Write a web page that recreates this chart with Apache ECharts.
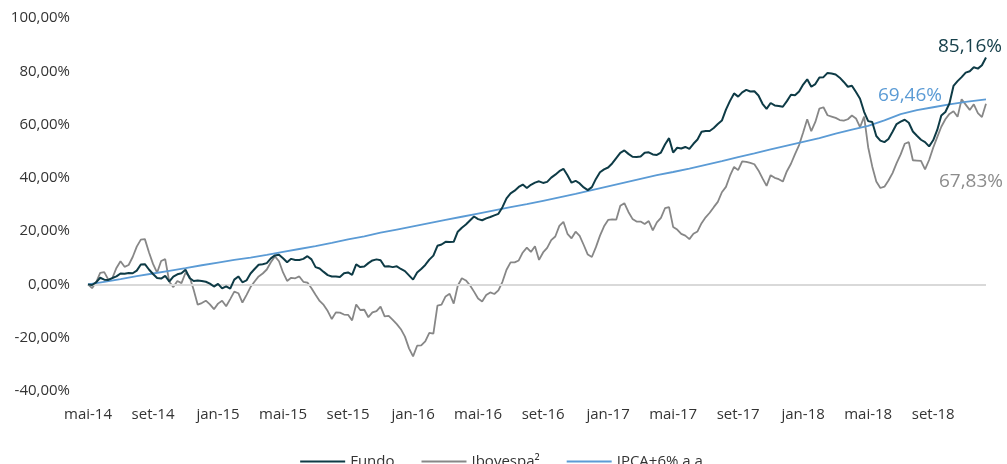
<!DOCTYPE html>
<html>
<head>
<meta charset="utf-8">
<script src="https://cdn.jsdelivr.net/npm/echarts@6/dist/echarts.min.js"></script>
<style>
  html, body { margin: 0; padding: 0; background: #fff; }
  #chart { width: 1007px; height: 464px; }
</style>
</head>
<body>
<div id="chart"></div>
<script>
// meses a partir de mai-14, pontos a cada 1/4 de mês
const STEP = 0.25
const END = 55.25
const monthNames = ['jan', 'fev', 'mar', 'abr', 'mai', 'jun', 'jul', 'ago', 'set', 'out', 'nov', 'dez']
const yTicks = [-40, -20, 0, 20, 40, 60, 80, 100]

// rentabilidade acumulada (%)
const fundo = [
  0.0, -0.2, 0.8, 2.5, 1.8, 1.7, 2.4, 3.0, 4.1, 4.0, 4.3, 4.2, 5.2, 7.5, 7.6, 5.6,
  3.9, 2.4, 2.2, 3.2, 1.1, 2.9, 3.8, 4.2, 5.5, 2.4, 1.3, 1.5, 1.3, 1.0, 0.3, -0.8,
  0.2, -1.5, -0.7, -1.6, 1.8, 3.0, 0.8, 1.5, 4.1, 5.8, 7.4, 7.6, 8.0, 9.8, 10.9, 11.1,
  9.8, 8.3, 9.6, 9.2, 9.2, 9.6, 10.6, 9.4, 6.5, 6.0, 4.7, 3.5, 3.0, 3.0, 2.8, 4.2,
  4.5, 3.6, 7.5, 6.5, 6.7, 8.0, 9.0, 9.4, 9.1, 6.7, 6.8, 6.5, 6.8, 5.8, 5.0, 3.4,
  1.8, 4.5, 5.8, 7.3, 9.3, 10.8, 14.5, 15.0, 16.0, 15.9, 16.0, 19.8, 21.3, 22.5, 24.0, 25.5,
  24.5, 24.1, 24.8, 25.3, 25.9, 26.5, 29.0, 32.3, 34.2, 35.2, 36.6, 37.5, 36.2, 37.4, 38.2, 38.7,
  38.1, 38.5, 40.1, 41.2, 42.5, 43.4, 41.0, 38.2, 38.9, 37.9, 36.4, 35.4, 36.5, 39.6, 42.1, 43.2,
  43.9, 45.4, 47.4, 49.4, 50.3, 49.0, 47.9, 47.8, 48.0, 49.4, 49.6, 48.8, 48.6, 49.5, 52.5, 54.9,
  49.5, 51.3, 51.0, 51.6, 50.9, 52.8, 54.4, 57.3, 57.6, 57.6, 58.7, 60.2, 61.5, 65.6, 68.9, 71.7,
  70.5, 72.1, 73.0, 72.4, 72.5, 70.9, 67.8, 65.9, 68.1, 67.2, 67.0, 66.7, 68.8, 71.2, 71.0, 72.4,
  75.0, 77.0, 74.2, 75.2, 77.7, 77.8, 79.4, 79.2, 78.8, 77.6, 76.0, 74.2, 74.6, 72.2, 69.7, 64.8,
  61.3, 61.0, 55.7, 54.0, 53.4, 54.6, 57.3, 60.2, 61.1, 61.8, 60.7, 57.4, 55.8, 54.3, 53.4, 51.8,
  54.1, 58.0, 63.4, 64.7, 67.9, 74.5, 76.3, 77.8, 79.5, 80.0, 81.5, 81.0, 82.3, 85.16
]

const ibovespa = [
  0.0, -1.4, 0.8, 4.3, 4.6, 1.8, 2.4, 6.2, 8.7, 6.6, 7.3, 10.3, 14.2, 16.8, 17.0, 12.1,
  7.7, 4.4, 8.8, 9.5, 1.0, -1.0, 1.3, 0.5, 4.4, 2.9, -2.0, -7.6, -7.0, -6.1, -7.5, -9.3,
  -7.2, -6.1, -8.2, -5.5, -2.7, -3.3, -6.8, -4.0, -1.0, 1.1, 3.0, 4.1, 5.6, 8.3, 10.5, 8.7,
  4.5, 1.3, 2.5, 2.3, 3.0, 1.0, 0.7, -1.4, -3.9, -6.2, -7.7, -10.0, -13.0, -10.5, -10.6, -11.3,
  -11.4, -13.5, -7.5, -9.6, -9.5, -12.3, -10.5, -10.0, -8.3, -12.0, -11.8, -13.3, -14.9, -16.8, -19.6, -24.0,
  -27.0, -23.0, -22.9, -21.4, -18.2, -18.5, -8.0, -7.6, -4.5, -3.5, -7.2, -0.5, 2.3, 1.5, -0.3, -2.7,
  -5.3, -6.4, -4.0, -3.0, -3.6, -2.2, 1.0, 5.5, 8.3, 8.3, 9.0, 12.0, 13.8, 12.2, 14.3, 9.2,
  12.0, 13.7, 16.6, 18.0, 22.0, 23.5, 19.0, 17.3, 19.8, 18.2, 14.8, 11.2, 10.3, 14.0, 18.3, 21.8,
  24.2, 24.4, 24.3, 29.5, 30.5, 27.2, 24.6, 23.6, 23.6, 22.7, 23.8, 20.3, 23.3, 25.0, 28.6, 29.0,
  21.6, 20.6, 19.0, 18.3, 17.0, 19.0, 19.9, 23.0, 25.2, 26.9, 29.0, 31.0, 34.6, 36.6, 40.8, 44.1,
  42.9, 46.2, 46.0, 45.6, 45.1, 42.8, 39.8, 37.0, 41.0, 40.0, 39.5, 38.6, 42.5, 45.3, 48.9, 52.3,
  57.0, 62.0, 57.5, 61.0, 66.0, 66.5, 63.5, 63.0, 62.5, 61.7, 61.5, 62.0, 63.4, 62.3, 59.0, 63.0,
  51.5, 44.3, 38.6, 36.2, 36.7, 39.0, 41.8, 45.5, 48.8, 52.8, 53.4, 46.6, 46.5, 46.4, 43.2, 46.7,
  51.3, 55.3, 59.2, 62.0, 64.0, 65.0, 62.9, 69.5, 67.5, 65.5, 67.6, 64.3, 62.8, 67.83
]

// IPCA+6% a.a., um ponto por mês (o último no fim da série)
const ipca = [
  0.0, 1.0, 2.0, 3.1, 4.1, 5.1, 6.1, 7.2, 8.2, 9.2, 10.1, 11.1, 12.2, 13.3, 14.4, 15.6,
  16.9, 18.0, 19.4, 20.6, 21.8, 23.0, 24.2, 25.4, 26.6, 27.8, 29.0, 30.1, 31.4, 32.7, 34.0, 35.4,
  36.8, 38.2, 39.6, 41.0, 42.2, 43.5, 44.9, 46.3, 47.8, 49.2, 50.7, 52.1, 53.5, 54.9, 56.6, 58.1,
  59.5, 61.6, 63.9, 65.4, 66.5, 67.6, 68.5, 69.3, 69.46
]

const FONT = 'Open Sans'

function pct (v) {
  return v.toFixed(2).replace('.', ',') + '%'
}

function monthLabel (m) {
  let k = 4 + Math.round(m)
  return monthNames[k % 12] + '-' + (14 + Math.floor(k / 12))
}

// rótulo com o valor final, preso ao último ponto
function endMark (arr, color, offset) {
  let last = arr[arr.length - 1]
  return {
    silent: true,
    symbol: 'circle',
    symbolSize: 1,
    itemStyle: { color: 'rgba(0,0,0,0)' },
    label: {
      show: true,
      position: 'inside',
      offset: offset,
      formatter: pct(last),
      color: color,
      fontFamily: FONT,
      fontSize: 19
    },
    data: [{ coord: [END, last] }]
  }
}

let chart = echarts.init(document.getElementById('chart'), null, { renderer: 'canvas' })

let option = {
  animation: false,
  backgroundColor: '#fff',
  grid: { left: 88, right: 21, top: 18, bottom: 73 },
  legend: {
    data: ['Fundo', 'Ibovespa²', 'IPCA+6% a.a.'],
    top: 449,
    left: 'center',
    icon: 'rect',
    itemWidth: 45,
    itemHeight: 2,
    itemGap: 27,
    textStyle: { fontFamily: FONT, fontSize: 15, color: '#333' }
  },
  xAxis: {
    type: 'value',
    min: 0,
    max: END,
    interval: 4,
    axisLine: { show: false },
    axisTick: { show: false },
    splitLine: { show: false },
    axisLabel: {
      margin: 16,
      showMaxLabel: false,
      fontFamily: FONT,
      fontSize: 15,
      color: '#333',
      formatter: monthLabel
    }
  },
  yAxis: {
    type: 'value',
    min: yTicks[0],
    max: yTicks[yTicks.length - 1],
    interval: 20,
    axisLine: { show: false },
    axisTick: { show: false },
    splitLine: { show: false },
    axisLabel: {
      margin: 18,
      fontFamily: FONT,
      fontSize: 15,
      color: '#333',
      formatter: pct
    }
  },
  series: [
    {
      name: 'Fundo',
      type: 'line',
      z: 5,
      symbol: 'none',
      lineStyle: { color: '#0e3b46', width: 2 },
      itemStyle: { color: '#0e3b46' },
      data: fundo.map((v, i) => [i * STEP, v]),
      markPoint: endMark(fundo, '#17404b', [-16, -11])
    },
    {
      name: 'Ibovespa²',
      type: 'line',
      z: 3,
      symbol: 'none',
      lineStyle: { color: '#878787', width: 1.8 },
      itemStyle: { color: '#878787' },
      data: ibovespa.map((v, i) => [i * STEP, v]),
      markPoint: endMark(ibovespa, '#8c8c8c', [-15, 78]),
      markLine: {
        silent: true,
        symbol: ['none', 'none'],
        label: { show: false },
        lineStyle: { color: '#d9d9d9', width: 2, type: 'solid' },
        data: [{ yAxis: 0 }]
      }
    },
    {
      name: 'IPCA+6% a.a.',
      type: 'line',
      z: 4,
      symbol: 'none',
      lineStyle: { color: '#5b9bd5', width: 1.8 },
      itemStyle: { color: '#5b9bd5' },
      data: ipca.map((v, i) => [i < ipca.length - 1 ? i : END, v]),
      markPoint: endMark(ipca, '#5b9bd5', [-76, -4])
    }
  ]
}

chart.setOption(option)
</script>
</body>
</html>
